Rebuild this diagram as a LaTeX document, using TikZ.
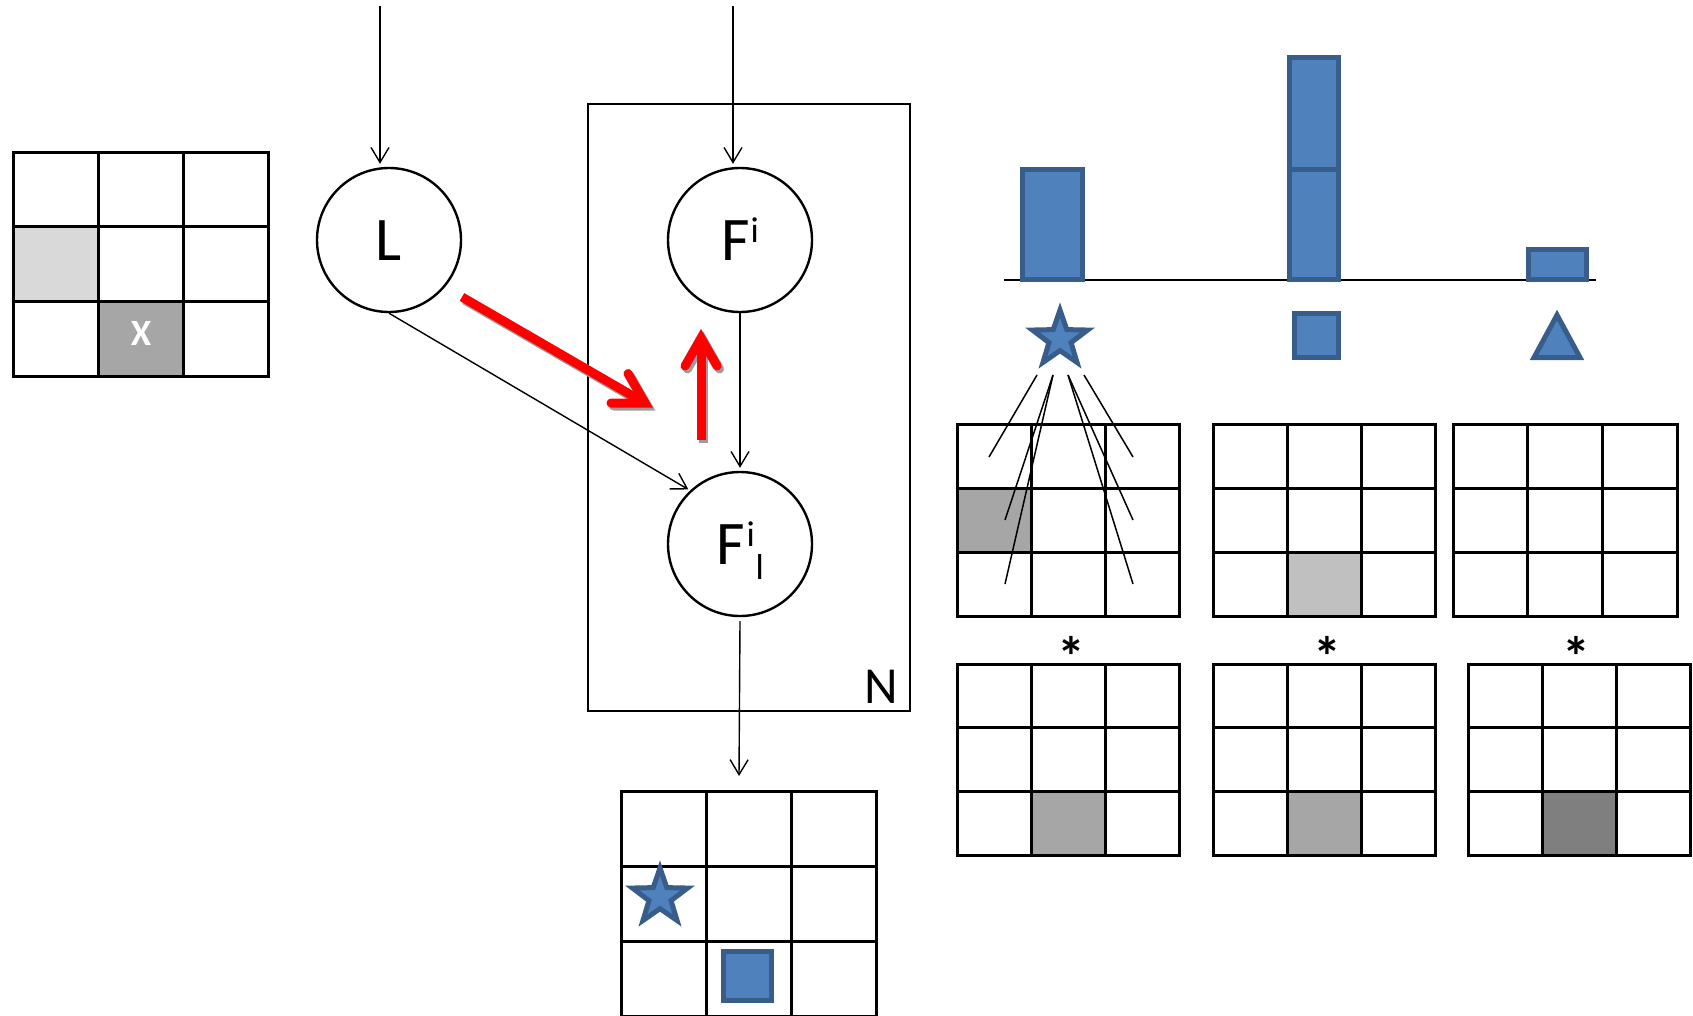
\documentclass[tikz,border=0pt]{standalone}
\usepackage{fontspec}
\setmainfont{Carlito}
\usetikzlibrary{arrows.meta,shapes.geometric}

\definecolor{barfill}{HTML}{4F81BD}
\definecolor{baredge}{HTML}{385D8A}
\definecolor{lightcell}{HTML}{D9D9D9}
\definecolor{midcell}{HTML}{A6A6A6}
\definecolor{palecell}{HTML}{C0C0C0}
\definecolor{darkcell}{HTML}{7F7F7F}
\definecolor{shadowgray}{HTML}{9C9C9C}

% 3x3 table: left x, top y, cell width, cell height
\newcommand\tictac[4]{%
  \draw[gridline] (#1,#2) rectangle ({#1+3*#3},{#2+3*#4});
  \foreach \k in {1,2} {
    \draw[gridline] ({#1+\k*#3},#2) -- ({#1+\k*#3},{#2+3*#4});
    \draw[gridline] (#1,{#2+\k*#4}) -- ({#1+3*#3},{#2+\k*#4});
  }}
% shaded cell: left x, top y, cell width, cell height, column, row, colour
\newcommand\fillcell[7]{%
  \fill[#7] ({#1+#5*#3},{#2+#6*#4}) rectangle ++(#3,#4);}

\begin{document}
\begin{tikzpicture}[x=1pt,y=-1pt,
  gridline/.style={line width=3pt},
  thinarrow/.style={line width=1.4pt,-{Straight Barb[length=15pt,width=18pt]}},
  fan/.style={line width=1.5pt},
  var/.style={circle,draw,line width=2.4pt,minimum size=144pt,inner sep=0pt,
    text height=40pt,text depth=0pt,font=\fontsize{62}{62}\selectfont},
  symbol/.style={fill=barfill,draw=baredge,line width=5pt,line join=miter},
  redshaft/.style={line width=9pt,line cap=butt},
  redhead/.style={line width=9pt,line cap=round,line join=miter},
  conv/.style={anchor=base,font=\bfseries\fontsize{56}{56}\selectfont}]

\useasboundingbox (0,0) rectangle (1693,1015);

% ---------- input image (left table) ----------
\fillcell{13}{152}{85}{74.7}{0}{1}{lightcell}
\fillcell{13}{152}{85}{74.7}{1}{2}{midcell}
\tictac{13}{152}{85}{74.7}
\node[anchor=base,text=white,font=\bfseries\fontsize{37}{37}\selectfont] (xmark) at (141,345) {X};

% ---------- graphical model ----------
\node[draw,line width=2.4pt,minimum width=322pt,minimum height=607pt,inner sep=0pt] (plate) at (749,407.5) {};
\node[anchor=base,font=\fontsize{52}{52}\selectfont] (Nlabel) at (881,703) {N};

\node[var] (L) at (389,240) {L};
\node[var] (Fi) at (740,240) {F\kern1pt\raisebox{18pt}{\fontsize{36}{36}\selectfont i}};
\node[var] (Fil) at (740,544) {F\kern2pt\rlap{\raisebox{18pt}{\fontsize{36}{36}\selectfont i}}\kern9pt\raisebox{-15pt}{\fontsize{36}{36}\selectfont l}};

\coordinate (Lin) at (380,6);
\coordinate (Fin) at (733,6);
\coordinate (outtop) at (739,776);

\draw[thinarrow,shorten >=3pt] (Lin) -- (Lin |- L.north);
\draw[thinarrow,shorten >=3pt] (Fin) -- (Fin |- Fi.north);
\draw[thinarrow,shorten >=3pt] (Fi.south) -- (Fil.north);
\draw[thinarrow,shorten >=2pt] (L.south) -- (Fil.133);
\draw[thinarrow] ([yshift=-4pt]Fil.south) -- (outtop);

% red arrows with drop shadow
\begin{scope}[shift={(2.5,3)},draw=shadowgray]
  \draw[redshaft] (462,297) -- (645,403);
  \draw[redhead] (611,403) -- (645,403) -- (628,373.5);
  \draw[redshaft] (701,440) -- (701,338);
  \draw[redhead] (685,366) -- (701,338) -- (717,366);
\end{scope}
\begin{scope}[draw=red]
  \draw[redshaft] (462,297) -- (645,403);
  \draw[redhead] (611,403) -- (645,403) -- (628,373.5);
  \draw[redshaft] (701,440) -- (701,338);
  \draw[redhead] (685,366) -- (701,338) -- (717,366);
\end{scope}

% ---------- output table ----------
\tictac{621}{791}{85.3}{75}
\node[star,star points=5,star point ratio=2.5,minimum size=58pt,inner sep=0pt,symbol] (starB) at (660,897) {};
\draw[symbol] (723.5,951.5) rectangle (771.5,1000.5);

% ---------- histogram ----------
\draw[line width=2.5pt] (1004,280) -- (1596,280);
\draw[symbol] (1022.5,169.5) rectangle (1082.5,279.5);
\draw[symbol] (1289.5,57.5) rectangle (1338.5,169.5);
\draw[symbol] (1289.5,169.5) rectangle (1338.5,279.5);
\draw[symbol] (1528.5,249.5) rectangle (1586.5,279.5);

\node[star,star points=5,star point ratio=2.5,minimum size=58pt,inner sep=0pt,symbol] (starA) at (1060,339) {};
\draw[symbol] (1294.5,313.5) rectangle (1338.5,357.5);
\draw[symbol] (1534,357.5) -- (1557,315) -- (1580,357.5) -- cycle;

% ---------- filter tables ----------
\fillcell{957}{424}{74.3}{64}{0}{1}{midcell}
\tictac{957}{424}{74.3}{64}
\fillcell{1213}{424}{74.3}{64}{1}{2}{palecell}
\tictac{1213}{424}{74.3}{64}
\tictac{1453}{424}{74.7}{64}

\fillcell{957}{664}{74.3}{63.7}{1}{2}{midcell}
\tictac{957}{664}{74.3}{63.7}
\fillcell{1213}{664}{74.3}{63.7}{1}{2}{midcell}
\tictac{1213}{664}{74.3}{63.7}
\fillcell{1468}{664}{74.3}{63.7}{1}{2}{darkcell}
\tictac{1468}{664}{74.3}{63.7}

\node[conv] (astA) at (1071,676) {*};
\node[conv] (astB) at (1327,676) {*};
\node[conv] (astC) at (1576,676) {*};

% ---------- rays from the star ----------
\coordinate (r1) at (1037,375);
\coordinate (r2) at (1053,375);
\coordinate (r3) at (1068,375);
\coordinate (r4) at (1084,375);
\draw[fan] (r1) -- (989,457);
\draw[fan] (r2) -- (1005,520);
\draw[fan] (r2) -- (1005,584);
\draw[fan] (r3) -- (1133,520);
\draw[fan] (r3) -- (1133,584);
\draw[fan] (r4) -- (1133,457);
\end{tikzpicture}
\end{document}
